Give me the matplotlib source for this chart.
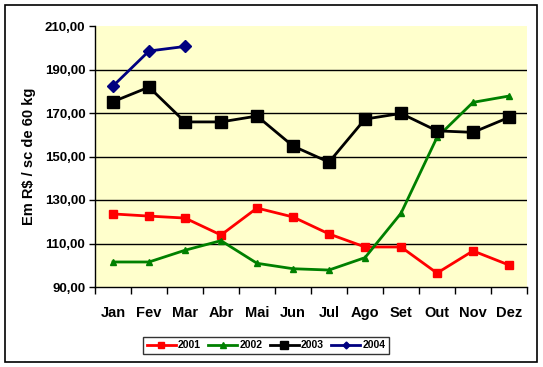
import matplotlib
matplotlib.use("Agg")
import matplotlib.pyplot as plt
from matplotlib.patches import Rectangle

plt.rcParams['font.family'] = ['Liberation Sans', 'DejaVu Sans']
plt.rcParams['font.weight'] = 'bold'

meses = ["Jan", "Fev", "Mar", "Abr", "Mai", "Jun", "Jul", "Ago", "Set", "Out", "Nov", "Dez"]
v2001 = [123.6, 122.6, 121.7, 113.9, 126.3, 122.2, 114.4, 108.4, 108.4, 96.4, 106.6, 100.1]
v2002 = [101.5, 101.5, 106.9, 111.3, 100.9, 98.4, 97.8, 103.5, 123.9, 158.8, 174.9, 177.8]
v2003 = [175.2, 181.9, 165.9, 165.9, 168.6, 154.8, 147.4, 167.2, 169.8, 161.8, 161.1, 168.0]
v2004 = [182.4, 198.5, 200.6]
yticks = [90, 110, 130, 150, 170, 190, 210]

W, H = 543, 367
fig = plt.figure(figsize=(W / 100, H / 100), dpi=100)
fig.patch.set_facecolor('white')
# outer border
fig.patches.append(Rectangle((5 / W, 5 / H), 532 / W, 357 / H, transform=fig.transFigure,
                             fill=False, edgecolor='black', linewidth=1.2))

ax = fig.add_axes([95 / W, 1 - 287 / H, 432 / W, 261 / H])
ax.set_facecolor('#FFFFCC')

x = list(range(12))
ax.plot(x, v2001, color='#FF0000', marker='s', markersize=6, linewidth=2, label='2001')
ax.plot(x, v2002, color='#008000', marker='^', markersize=5, linewidth=2, label='2002')
ax.plot(x, v2003, color='black', marker='s', markersize=8, linewidth=2, label='2003')
ax.plot(x[:len(v2004)], v2004, color='#000080', marker='D', markersize=6, linewidth=2, label='2004')

ax.set_xlim(-0.5, 11.5)
ax.set_ylim(90, 210)
ax.set_yticks(yticks)
ax.set_yticklabels([f"{v:.2f}".replace('.', ',') for v in yticks], fontsize=9.5, fontweight='bold')
for v in yticks[1:-1]:
    ax.axhline(v, color='black', linewidth=1, zorder=0.5)

ax.set_xticks([i - 0.5 for i in range(13)])
ax.set_xticklabels([])
ax.set_xticks(x, minor=True)
ax.set_xticklabels(meses, minor=True, fontsize=10.5, fontweight='bold')
ax.tick_params(axis='x', which='major', direction='out', length=5, width=1)
ax.tick_params(axis='x', which='minor', length=0, pad=14)
ax.tick_params(axis='y', direction='out', length=4, width=1, pad=3)

for s in ['top', 'right']:
    ax.spines[s].set_visible(False)
ax.spines['left'].set_linewidth(1)
ax.spines['bottom'].set_linewidth(1)

ax.set_ylabel('Em R$ / sc de 60 kg', fontsize=10.5, fontweight='bold', labelpad=6)

leg = fig.legend(loc='center', bbox_to_anchor=(266 / W, 1 - 345.5 / H), ncol=4,
                 prop={'size': 7.5, 'weight': 'bold'}, frameon=True, fancybox=False,
                 edgecolor='black', handlelength=2.8, handletextpad=0.2,
                 columnspacing=0.7, borderpad=0.35, markerscale=0.8)
leg.get_frame().set_linewidth(1)
leg.legend_handles[3].set_markersize(3.5)

fig.savefig('out.png', dpi=100)
